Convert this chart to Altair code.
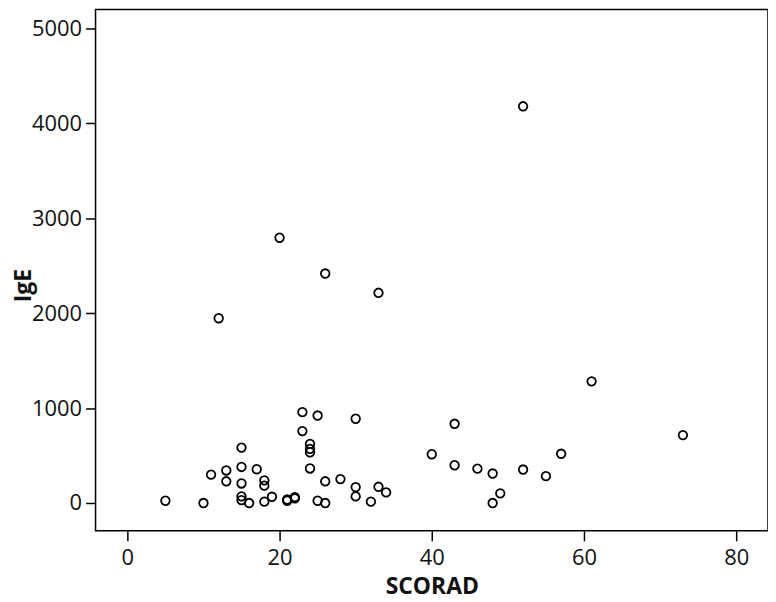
import altair as alt
import pandas as pd

scorad = [52, 20, 26, 33, 12, 61, 73, 43, 40, 43, 46, 48, 52, 55, 57, 49, 48,
          23, 25, 30, 23, 24, 24, 24, 24, 15, 11, 13, 15, 17, 13, 15, 18, 18,
          26, 28, 30, 30, 33, 34, 5, 10, 15, 15, 16, 18, 19, 21, 21, 22, 22,
          25, 26, 32]
ige = [4180, 2795, 2418, 2215, 1947, 1282, 716, 835, 514, 398, 362, 311, 353,
       283, 519, 102, 0, 957, 922, 888, 758, 624, 571, 535, 364, 584, 299, 343,
       380, 356, 229, 206, 238, 183, 229, 252, 168, 70, 171, 112, 24, 0, 70,
       31, 0, 14, 66, 24, 37, 49, 63, 24, 0, 14]

x_ticks = [0, 20, 40, 60, 80]
y_ticks = [0, 1000, 2000, 3000, 4000, 5000]

df = pd.DataFrame({"SCORAD": scorad, "IgE": ige})

FONT = "Open Sans"

chart = alt.Chart(df).mark_point(
    shape="circle", filled=False, color="black", strokeWidth=1.8, size=74, opacity=1
).encode(
    x=alt.X("SCORAD:Q",
            scale=alt.Scale(domain=[-4.18, 84.18], nice=False, zero=False),
            axis=alt.Axis(values=x_ticks, format="d", title="SCORAD", grid=False, domain=False,
                          tickColor="black", tickSize=10, tickWidth=1.5,
                          labelFont=FONT, labelFontSize=22, labelColor="#111",
                          labelPadding=7, titleFont=FONT, titleFontSize=23,
                          titleFontWeight="bold", titleColor="#111",
                          titleX=338, titleY=56, titleBaseline="middle",
                          titleAlign="center", titleAnchor="middle")),
    y=alt.Y("IgE:Q",
            scale=alt.Scale(domain=[-293, 5199], nice=False, zero=False),
            axis=alt.Axis(values=y_ticks, format="d", title="IgE", grid=False, domain=False,
                          tickColor="black", tickSize=10, tickWidth=1.5,
                          labelFont=FONT, labelFontSize=22, labelColor="#111",
                          labelPadding=4, titleFont=FONT, titleFontSize=23,
                          titleFontWeight="bold", titleColor="#111",
                          titleX=-72, titleY=277, titleAngle=270,
                          titleBaseline="middle", titleAlign="center",
                          titleAnchor="middle")),
).properties(
    width=676,
    height=524,
    autosize=alt.AutoSizeParams(type="none"),
    padding={"left": 88, "top": 0, "right": 0, "bottom": 80},
).configure_view(
    stroke="black", strokeWidth=1.5
)

chart.save("out.html", embed_options={"renderer": "svg", "actions": False})
